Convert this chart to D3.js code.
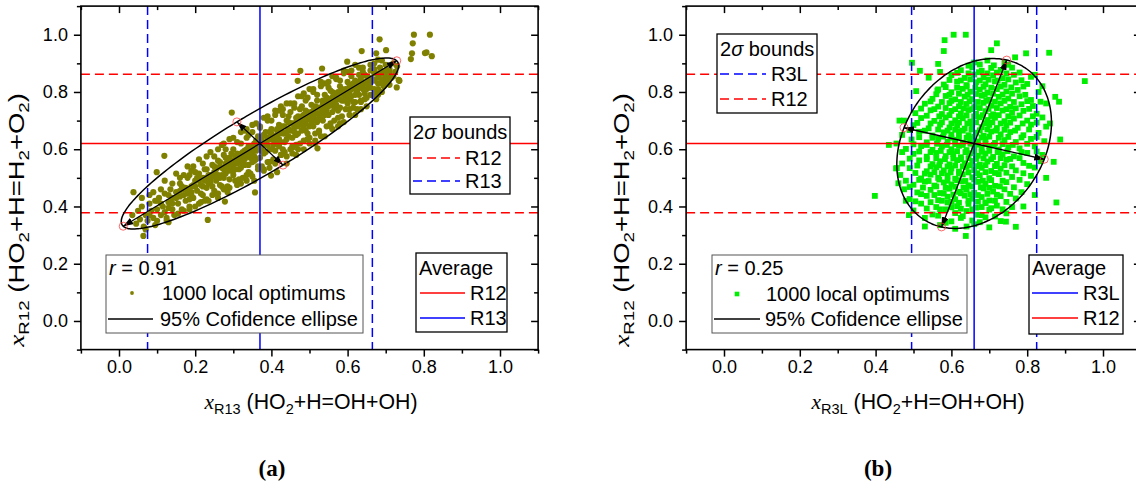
<!DOCTYPE html>
<html><head><meta charset="utf-8">
<script src="https://cdn.jsdelivr.net/npm/d3@7/dist/d3.min.js"></script>
<style>
body{margin:0;background:#fff;}
</style>
</head><body>
<svg id="c" width="1136" height="489" font-family="'Liberation Sans',Arial,sans-serif"></svg>
<script>
// ---------------- DATA ----------------
const majorTicks = [0, 0.2, 0.4, 0.6, 0.8, 1.0];
const minorTicks = [-0.1, 0.1, 0.3, 0.5, 0.7, 0.9, 1.1];
const axisDomain = [-0.1, 1.1];

// panel (a): x = R13, y = R12
const meanA = [0.37, 0.62];
const boundsXA = [0.075, 0.665];
const boundsYA = [0.378, 0.862];
const ellipseMajorA = [0.359, 0.289];
const ellipseMinorA = [0.0605, -0.0755];
const rA = "0.91";

// panel (b): x = R3L, y = R12
const meanB = [0.66, 0.62];
const boundsXB = [0.495, 0.825];
const boundsYB = [0.378, 0.862];
const ellipseMajorB = [0.086, 0.2915];
const ellipseMinorB = [0.185, -0.055];
const rB = "0.25";

const pointsA = [
[0.035,0.37],[0.045,0.34],[0.05,0.385],[0.055,0.355],[0.06,0.40],[0.065,0.33],[0.07,0.37],[0.075,0.35],[0.08,0.41],[0.085,0.385],
[0.09,0.36],[0.095,0.42],[0.10,0.39],[0.10,0.35],[0.105,0.43],[0.11,0.37],[0.115,0.40],[0.12,0.445],[0.12,0.38],[0.125,0.36],
[0.13,0.415],[0.135,0.46],[0.14,0.39],[0.14,0.43],[0.145,0.37],[0.15,0.45],[0.155,0.41],[0.16,0.48],[0.16,0.435],[0.165,0.39],
[0.17,0.46],[0.175,0.42],[0.18,0.50],[0.18,0.445],[0.185,0.40],[0.19,0.47],[0.195,0.43],[0.20,0.52],[0.20,0.49],[0.205,0.455],
[0.21,0.41],[0.215,0.475],[0.22,0.50],[0.22,0.44],[0.225,0.53],[0.23,0.465],[0.235,0.42],[0.24,0.51],[0.24,0.485],[0.245,0.545],
[0.25,0.455],[0.25,0.52],[0.255,0.49],[0.26,0.56],[0.26,0.43],[0.265,0.50],[0.27,0.535],[0.27,0.47],[0.275,0.58],[0.28,0.515],
[0.28,0.55],[0.285,0.45],[0.29,0.495],[0.29,0.57],[0.295,0.535],[0.30,0.60],[0.30,0.51],[0.305,0.555],[0.31,0.475],[0.31,0.585],
[0.315,0.53],[0.32,0.62],[0.32,0.56],[0.325,0.50],[0.33,0.595],[0.33,0.545],[0.335,0.64],[0.34,0.575],[0.34,0.52],[0.345,0.61],
[0.35,0.555],[0.35,0.66],[0.355,0.49],[0.36,0.595],[0.36,0.63],[0.365,0.54],[0.37,0.57],[0.37,0.68],[0.375,0.615],[0.38,0.65],
[0.38,0.525],[0.385,0.59],[0.39,0.555],[0.39,0.70],[0.395,0.635],[0.40,0.67],[0.40,0.60],[0.405,0.56],[0.41,0.645],[0.41,0.72],
[0.415,0.52],[0.42,0.61],[0.42,0.685],[0.425,0.58],[0.43,0.655],[0.43,0.74],[0.435,0.625],[0.44,0.70],[0.44,0.55],[0.445,0.67],
[0.45,0.60],[0.45,0.73],[0.455,0.64],[0.46,0.76],[0.46,0.685],[0.465,0.58],[0.47,0.715],[0.47,0.655],[0.475,0.62],[0.48,0.75],
[0.48,0.69],[0.485,0.60],[0.49,0.735],[0.49,0.665],[0.495,0.78],[0.50,0.705],[0.50,0.64],[0.505,0.755],[0.51,0.68],[0.51,0.80],
[0.515,0.62],[0.52,0.725],[0.52,0.77],[0.525,0.66],[0.53,0.745],[0.53,0.82],[0.535,0.70],[0.54,0.79],[0.54,0.645],[0.545,0.76],
[0.55,0.72],[0.55,0.835],[0.555,0.68],[0.56,0.80],[0.56,0.755],[0.565,0.70],[0.57,0.78],[0.57,0.85],[0.575,0.735],[0.58,0.82],
[0.58,0.69],[0.585,0.77],[0.59,0.80],[0.59,0.865],[0.595,0.74],[0.60,0.835],[0.60,0.78],[0.605,0.72],[0.61,0.81],[0.61,0.875],
[0.615,0.765],[0.62,0.84],[0.62,0.79],[0.625,0.74],[0.63,0.86],[0.63,0.815],[0.635,0.77],[0.64,0.885],[0.64,0.835],[0.645,0.795],
[0.65,0.855],[0.65,0.75],[0.655,0.82],[0.66,0.875],[0.66,0.79],[0.665,0.845],[0.67,0.81],[0.67,0.90],[0.675,0.775],[0.68,0.865],
[0.68,0.83],[0.685,0.885],[0.69,0.845],[0.69,0.80],[0.695,0.87],[0.70,0.895],[0.70,0.835],[0.705,0.86],[0.71,0.88],[0.715,0.85],
[0.72,0.90],[0.725,0.87],[0.73,0.89],[0.735,0.84],
[0.13,0.44],[0.17,0.44],[0.19,0.45],[0.21,0.49],[0.23,0.50],[0.235,0.48],[0.245,0.505],[0.255,0.53],[0.265,0.54],[0.275,0.53],
[0.285,0.555],[0.295,0.56],[0.305,0.575],[0.315,0.575],[0.325,0.59],[0.335,0.60],[0.345,0.59],[0.355,0.62],[0.365,0.61],[0.375,0.64],
[0.385,0.625],[0.395,0.66],[0.405,0.645],[0.415,0.67],[0.425,0.665],[0.435,0.68],[0.445,0.695],[0.455,0.69],[0.465,0.71],[0.475,0.705],
[0.485,0.72],[0.495,0.73],[0.505,0.73],[0.515,0.75],[0.525,0.745],[0.535,0.77],[0.545,0.78],[0.555,0.775],[0.565,0.79],[0.575,0.80],
[0.585,0.795],[0.595,0.81],[0.605,0.82],[0.615,0.83],[0.625,0.83],[0.635,0.85],[0.645,0.86],[0.655,0.85],
[0.08,0.37],[0.11,0.41],[0.14,0.41],[0.16,0.455],[0.175,0.465],[0.185,0.425],[0.195,0.475],[0.205,0.50],[0.215,0.445],[0.225,0.49],
[0.235,0.51],[0.245,0.47],[0.255,0.505],[0.265,0.475],[0.275,0.50],[0.28,0.57],[0.29,0.525],[0.30,0.545],[0.305,0.53],[0.31,0.55],
[0.32,0.535],[0.325,0.57],[0.33,0.565],[0.34,0.545],[0.345,0.57],[0.35,0.585],[0.355,0.575],[0.36,0.565],[0.365,0.645],[0.37,0.60],
[0.38,0.585],[0.385,0.66],[0.39,0.615],[0.40,0.635],[0.405,0.615],[0.41,0.595],[0.415,0.64],[0.42,0.655],[0.425,0.625],[0.43,0.60],
[0.435,0.655],[0.44,0.635],[0.445,0.715],[0.45,0.665],[0.455,0.61],[0.46,0.66],[0.465,0.695],[0.47,0.68],[0.475,0.74],[0.48,0.665],
[0.485,0.70],[0.49,0.69],[0.495,0.655],[0.50,0.68],[0.505,0.71],[0.51,0.735],[0.515,0.70],[0.52,0.695],[0.525,0.71],[0.53,0.725],
[0.535,0.76],[0.54,0.72],[0.545,0.735],[0.55,0.75],[0.555,0.805],[0.56,0.73],[0.565,0.765],[0.57,0.755],[0.575,0.775],[0.58,0.745],
[0.585,0.81],[0.59,0.77],[0.595,0.785],[0.60,0.76],[0.605,0.80],[0.61,0.785],[0.62,0.765],[0.625,0.805],[0.63,0.79],[0.64,0.81],
[0.65,0.83],[0.66,0.815],[0.67,0.84],[0.68,0.81],[0.69,0.865],[0.70,0.86],[0.71,0.845],
[0.06,0.43],[0.07,0.32],[0.09,0.45],[0.095,0.335],[0.12,0.49],[0.125,0.35],[0.15,0.515],[0.155,0.375],[0.16,0.50],
[0.18,0.54],[0.185,0.39],[0.19,0.525],[0.21,0.565],[0.215,0.415],[0.22,0.55],[0.225,0.42],[0.24,0.59],[0.245,0.44],[0.25,0.575],[0.255,0.445],
[0.27,0.615],[0.275,0.46],[0.28,0.60],[0.285,0.47],[0.30,0.64],[0.305,0.49],[0.31,0.625],[0.315,0.495],[0.33,0.665],[0.335,0.51],
[0.34,0.65],[0.345,0.515],[0.36,0.69],[0.365,0.53],[0.37,0.675],[0.375,0.54],[0.39,0.715],[0.395,0.555],[0.40,0.70],[0.405,0.565],
[0.42,0.735],[0.425,0.58],[0.43,0.72],[0.435,0.59],[0.45,0.76],[0.455,0.605],[0.46,0.745],[0.465,0.615],[0.48,0.785],[0.485,0.63],
[0.49,0.77],[0.495,0.635],[0.51,0.81],[0.515,0.655],[0.52,0.79],[0.525,0.665],[0.54,0.83],[0.545,0.68],[0.55,0.815],[0.555,0.69],
[0.57,0.845],[0.575,0.71],[0.58,0.84],[0.585,0.715],[0.60,0.87],[0.605,0.74],[0.61,0.855],[0.615,0.745],[0.63,0.885],[0.635,0.765],
[0.64,0.87],[0.645,0.775],[0.66,0.895],[0.665,0.79],[0.67,0.88],[0.675,0.80],[0.69,0.91],[0.695,0.82],[0.70,0.875],[0.71,0.825],
[0.10,0.42],[0.13,0.395],[0.15,0.43],[0.165,0.47],[0.18,0.46],[0.19,0.44],[0.20,0.47],[0.21,0.515],[0.22,0.47],[0.23,0.53],
[0.24,0.495],[0.25,0.54],[0.26,0.51],[0.265,0.555],[0.27,0.51],[0.28,0.535],[0.29,0.545],[0.295,0.585],[0.30,0.525],[0.31,0.565],
[0.32,0.585],[0.325,0.55],[0.335,0.58],[0.34,0.61],[0.35,0.60],[0.355,0.56],[0.36,0.615],[0.37,0.63],[0.375,0.595],[0.38,0.615],
[0.39,0.64],[0.395,0.60],[0.40,0.655],[0.41,0.625],[0.415,0.665],[0.42,0.635],[0.43,0.68],[0.44,0.66],[0.445,0.645],[0.45,0.69],
[0.46,0.675],[0.465,0.65],[0.47,0.70],[0.48,0.715],[0.485,0.675],[0.49,0.71],[0.50,0.725],[0.505,0.69],[0.51,0.715],[0.52,0.745],
[0.53,0.705],[0.535,0.735],[0.54,0.745],[0.55,0.77],[0.56,0.78],[0.565,0.745],[0.57,0.795],[0.58,0.775],[0.59,0.79],[0.60,0.80],
[0.605,0.775],[0.61,0.825],[0.62,0.81],[0.63,0.835],[0.64,0.825],[0.65,0.81],[0.655,0.84],[0.66,0.835],[0.67,0.865],[0.68,0.85],
[0.69,0.83],[0.70,0.85],[0.71,0.87],[0.72,0.855],
[0.08,0.44],[0.11,0.46],[0.13,0.345],[0.14,0.48],[0.17,0.51],[0.17,0.385],[0.195,0.54],[0.20,0.40],[0.23,0.575],[0.23,0.425],
[0.26,0.60],[0.26,0.445],[0.29,0.635],[0.29,0.465],[0.32,0.66],[0.32,0.48],[0.35,0.685],[0.35,0.505],[0.38,0.71],[0.38,0.53],
[0.41,0.735],[0.41,0.55],[0.44,0.76],[0.44,0.575],[0.47,0.785],[0.47,0.60],[0.50,0.81],[0.50,0.62],[0.53,0.835],[0.53,0.645],
[0.56,0.855],[0.56,0.67],[0.59,0.875],[0.59,0.695],[0.62,0.895],[0.62,0.72],[0.65,0.78],[0.68,0.79],[0.185,0.51],[0.275,0.62],
[0.335,0.67],[0.425,0.75],[0.485,0.795],[0.335,0.49],[0.395,0.535],[0.455,0.585],[0.515,0.63],[0.575,0.68],[0.635,0.74],
[0.774,1.0],[0.816,1.0],[0.771,0.97],[0.769,0.935],[0.766,0.915],[0.807,0.938],[0.821,0.925],[0.684,0.984],[0.701,0.946],[0.637,0.943],
[0.675,0.935],[0.599,0.906],[0.734,0.842],[0.729,0.816],[0.296,0.728],[0.119,0.577],[0.099,0.52],[0.038,0.45],[0.064,0.297],[0.233,0.353],
[0.357,0.449],[0.278,0.417],[0.476,0.874],[0.533,0.882],[0.521,0.603],[0.399,0.508],[0.803,0.936],[0.68,0.913],[0.469,0.839],[0.736,0.839]
];

const pointsB = [
[0.57,0.335],[0.61,0.322],[0.66,0.338],[0.70,0.327],
[0.53,0.36],[0.60,0.348],[0.63,0.366],[0.655,0.351],[0.69,0.362],[0.73,0.349],
[0.50,0.386],[0.55,0.372],[0.585,0.39],[0.61,0.377],[0.64,0.384],[0.67,0.371],[0.70,0.389],[0.745,0.376],
[0.52,0.41],[0.56,0.398],[0.59,0.414],[0.615,0.401],[0.645,0.409],[0.665,0.396],[0.69,0.412],[0.72,0.403],[0.76,0.398],
[0.49,0.426],[0.535,0.437],[0.565,0.422],[0.59,0.434],[0.61,0.425],[0.635,0.438],[0.655,0.427],[0.68,0.433],[0.70,0.421],[0.73,0.436],[0.77,0.428],
[0.475,0.46],[0.51,0.449],[0.545,0.458],[0.57,0.447],[0.595,0.462],[0.62,0.451],[0.64,0.459],[0.66,0.448],[0.685,0.463],[0.71,0.452],[0.74,0.46],[0.785,0.45],
[0.50,0.476],[0.53,0.487],[0.555,0.473],[0.58,0.484],[0.60,0.477],[0.625,0.488],[0.645,0.474],[0.67,0.486],[0.69,0.479],[0.715,0.472],[0.745,0.485],[0.80,0.478],
[0.465,0.51],[0.52,0.498],[0.545,0.511],[0.565,0.5],[0.59,0.508],[0.61,0.497],[0.63,0.512],[0.655,0.502],[0.675,0.509],[0.70,0.499],[0.725,0.513],[0.76,0.503],[0.81,0.507],
[0.49,0.534],[0.535,0.523],[0.56,0.537],[0.58,0.526],[0.60,0.533],[0.62,0.522],[0.64,0.538],[0.66,0.527],[0.68,0.535],[0.705,0.524],[0.73,0.532],[0.77,0.526],[0.82,0.536],
[0.47,0.55],[0.515,0.561],[0.55,0.548],[0.57,0.558],[0.595,0.547],[0.615,0.562],[0.635,0.551],[0.655,0.559],[0.675,0.546],[0.695,0.557],[0.72,0.549],[0.745,0.563],[0.79,0.552],[0.835,0.558],
[0.50,0.584],[0.535,0.574],[0.56,0.587],[0.585,0.576],[0.605,0.583],[0.625,0.572],[0.65,0.586],[0.67,0.577],[0.69,0.585],[0.71,0.573],[0.735,0.582],[0.765,0.575],[0.80,0.587],
[0.48,0.601],[0.52,0.611],[0.55,0.598],[0.575,0.609],[0.60,0.6],[0.62,0.612],[0.64,0.597],[0.66,0.608],[0.68,0.602],[0.70,0.611],[0.725,0.599],[0.75,0.607],[0.78,0.603],[0.82,0.61],
[0.495,0.634],[0.535,0.624],[0.565,0.636],[0.59,0.626],[0.61,0.633],[0.63,0.623],[0.65,0.637],[0.67,0.627],[0.69,0.635],[0.715,0.622],[0.74,0.632],[0.77,0.625],[0.81,0.636],[0.845,0.628],
[0.47,0.65],[0.515,0.661],[0.55,0.648],[0.58,0.659],[0.60,0.651],[0.62,0.663],[0.645,0.649],[0.665,0.658],[0.685,0.647],[0.705,0.662],[0.73,0.652],[0.755,0.66],[0.79,0.649],[0.83,0.657],
[0.50,0.684],[0.54,0.673],[0.57,0.686],[0.595,0.676],[0.615,0.683],[0.635,0.672],[0.655,0.687],[0.68,0.677],[0.70,0.685],[0.72,0.674],[0.745,0.682],[0.775,0.675],[0.81,0.686],[0.85,0.679],
[0.52,0.709],[0.555,0.699],[0.585,0.711],[0.61,0.701],[0.63,0.708],[0.65,0.697],[0.675,0.712],[0.695,0.702],[0.715,0.71],[0.74,0.698],[0.765,0.707],[0.80,0.7],[0.84,0.711],
[0.505,0.726],[0.545,0.736],[0.575,0.723],[0.60,0.734],[0.625,0.725],[0.645,0.737],[0.665,0.724],[0.69,0.733],[0.71,0.722],[0.735,0.735],[0.76,0.727],[0.79,0.734],[0.825,0.724],
[0.53,0.759],[0.565,0.749],[0.595,0.761],[0.62,0.75],[0.64,0.758],[0.66,0.747],[0.685,0.762],[0.705,0.752],[0.73,0.76],[0.755,0.748],[0.785,0.757],[0.815,0.751],[0.85,0.76],
[0.55,0.776],[0.585,0.786],[0.61,0.774],[0.635,0.784],[0.655,0.775],[0.68,0.787],[0.70,0.773],[0.725,0.783],[0.75,0.777],[0.78,0.785],[0.81,0.772],
[0.565,0.809],[0.60,0.799],[0.63,0.811],[0.65,0.801],[0.675,0.808],[0.695,0.798],[0.72,0.81],[0.745,0.802],[0.775,0.807],[0.83,0.8],
[0.58,0.826],[0.615,0.836],[0.64,0.824],[0.665,0.834],[0.69,0.827],[0.715,0.837],[0.74,0.825],[0.77,0.833],[0.80,0.828],
[0.60,0.859],[0.635,0.849],[0.66,0.861],[0.685,0.851],[0.71,0.858],[0.735,0.848],[0.765,0.86],[0.81,0.853],
[0.625,0.876],[0.655,0.886],[0.68,0.874],[0.705,0.884],[0.73,0.877],[0.76,0.885],
[0.66,0.903],[0.695,0.91],[0.74,0.901],
[0.585,0.343],[0.675,0.345],[0.64,0.33],
[0.565,0.368],[0.625,0.36],[0.68,0.37],[0.715,0.365],
[0.535,0.393],[0.57,0.39],[0.60,0.397],[0.625,0.392],[0.655,0.39],[0.68,0.398],[0.705,0.394],[0.735,0.39],
[0.505,0.418],[0.545,0.415],[0.575,0.42],[0.60,0.416],[0.62,0.413],[0.645,0.42],[0.67,0.417],[0.69,0.414],[0.715,0.42],[0.745,0.416],
[0.52,0.443],[0.555,0.44],[0.58,0.445],[0.605,0.441],[0.625,0.446],[0.65,0.442],[0.67,0.44],[0.695,0.444],[0.72,0.441],[0.755,0.444],
[0.49,0.468],[0.525,0.466],[0.56,0.47],[0.585,0.465],[0.61,0.469],[0.632,0.466],[0.655,0.47],[0.678,0.467],[0.70,0.465],[0.728,0.47],[0.765,0.467],
[0.48,0.49],[0.515,0.493],[0.54,0.489],[0.568,0.494],[0.59,0.49],[0.615,0.492],[0.637,0.489],[0.66,0.494],[0.683,0.49],[0.705,0.492],[0.735,0.49],[0.78,0.493],
[0.505,0.517],[0.53,0.515],[0.555,0.52],[0.575,0.516],[0.598,0.519],[0.62,0.515],[0.645,0.519],[0.668,0.516],[0.69,0.52],[0.715,0.517],[0.745,0.518],[0.79,0.516],
[0.51,0.543],[0.545,0.54],[0.568,0.544],[0.59,0.54],[0.61,0.543],[0.63,0.54],[0.65,0.544],[0.67,0.541],[0.69,0.544],[0.715,0.541],[0.74,0.544],[0.76,0.54],[0.805,0.542],
[0.49,0.567],[0.535,0.565],[0.56,0.569],[0.583,0.565],[0.605,0.568],[0.625,0.565],[0.645,0.569],[0.665,0.566],[0.685,0.568],[0.705,0.565],[0.73,0.569],[0.755,0.566],[0.78,0.569],
[0.515,0.592],[0.545,0.59],[0.572,0.594],[0.595,0.59],[0.615,0.593],[0.637,0.59],[0.66,0.594],[0.68,0.591],[0.70,0.594],[0.722,0.59],[0.748,0.593],[0.785,0.59],[0.825,0.592],
[0.50,0.617],[0.535,0.615],[0.562,0.619],[0.588,0.615],[0.61,0.618],[0.63,0.615],[0.65,0.619],[0.67,0.616],[0.69,0.619],[0.712,0.615],[0.735,0.618],[0.762,0.615],[0.80,0.619],
[0.515,0.642],[0.55,0.64],[0.578,0.644],[0.60,0.64],[0.62,0.643],[0.64,0.64],[0.66,0.644],[0.68,0.641],[0.70,0.644],[0.725,0.64],[0.75,0.643],[0.785,0.641],[0.825,0.643],
[0.49,0.667],[0.53,0.665],[0.565,0.669],[0.59,0.665],[0.61,0.668],[0.63,0.665],[0.653,0.669],[0.675,0.666],[0.695,0.669],[0.718,0.665],[0.74,0.668],[0.768,0.665],[0.805,0.669],
[0.51,0.692],[0.545,0.69],[0.575,0.694],[0.60,0.69],[0.62,0.693],[0.642,0.69],[0.665,0.694],[0.688,0.691],[0.708,0.694],[0.73,0.69],[0.755,0.693],[0.788,0.69],[0.825,0.693],
[0.535,0.717],[0.568,0.715],[0.595,0.719],[0.62,0.715],[0.64,0.718],[0.66,0.715],[0.683,0.719],[0.705,0.716],[0.725,0.719],[0.75,0.715],[0.78,0.718],[0.815,0.715],
[0.52,0.742],[0.555,0.74],[0.585,0.744],[0.61,0.74],[0.632,0.743],[0.655,0.74],[0.675,0.744],[0.698,0.741],[0.72,0.744],[0.745,0.74],[0.77,0.743],[0.805,0.741],
[0.545,0.767],[0.575,0.765],[0.60,0.769],[0.625,0.765],[0.648,0.768],[0.67,0.765],[0.692,0.769],[0.715,0.766],[0.74,0.769],[0.765,0.765],[0.80,0.768],[0.835,0.766],
[0.56,0.792],[0.595,0.79],[0.62,0.794],[0.643,0.79],[0.665,0.793],[0.688,0.79],[0.71,0.794],[0.735,0.791],[0.76,0.794],[0.795,0.79],
[0.585,0.817],[0.615,0.815],[0.64,0.819],[0.663,0.815],[0.685,0.818],[0.705,0.815],[0.73,0.819],[0.758,0.816],[0.79,0.819],
[0.595,0.842],[0.625,0.84],[0.65,0.844],[0.675,0.84],[0.698,0.843],[0.722,0.84],[0.75,0.844],[0.785,0.841],
[0.615,0.867],[0.645,0.865],[0.672,0.869],[0.695,0.865],[0.72,0.868],[0.745,0.865],[0.78,0.868],
[0.645,0.892],[0.675,0.896],[0.712,0.893],[0.75,0.895],
[0.47,0.59],[0.475,0.70],[0.455,0.62],[0.48,0.42],[0.53,0.33],[0.84,0.58],[0.86,0.69],[0.85,0.50],[0.82,0.44],[0.79,0.40],
[0.54,0.85],[0.57,0.87],[0.82,0.86],[0.84,0.82],
[0.606,1.0],[0.638,1.0],[0.582,0.981],[0.58,0.943],[0.72,0.97],[0.705,0.946],[0.768,0.921],[0.797,0.935],[0.858,0.937],[0.952,0.838],
[0.874,0.783],[0.884,0.766],[0.887,0.634],[0.87,0.556],[0.877,0.414],[0.398,0.437],[0.435,0.615],[0.454,0.533],[0.496,0.902],[0.517,0.874],
[0.565,0.898],[0.638,0.297],[0.744,0.347],[0.77,0.329],[0.488,0.37],[0.507,0.803],[0.563,0.805],[0.463,0.70],[0.46,0.481],[0.456,0.534]
];

const xTitleA = ["R13", "HO", "2", "+H=OH+OH)"];
const xTitleB = ["R3L", "HO", "2", "+H=OH+OH)"];
const yTitleParts = ["R12"];
const boundsLabelsA = ["R12", "R13"];
const averageLabelsA = ["R12", "R13"];
const boundsLabelsB = ["R3L", "R12"];
const averageLabelsB = ["R3L", "R12"];
const scatterLabel = "1000 local optimums";
const ellipseLabel = "95% Cofidence ellipse";
const panelLabels = ["(a)", "(b)"];

// ---------------- DRAW ----------------
const RED = "#ff0000", BLUE = "#0000ff";
const SANS = "'Liberation Sans',Arial,sans-serif";
const SERIF = "'Liberation Serif','Times New Roman',serif";
const svg = d3.select("#c");
svg.append("rect").attr("width", 1136).attr("height", 489).attr("fill", "#fff");
const defs = svg.append("defs");
defs.append("marker").attr("id", "ah").attr("viewBox", "0 0 10 7")
  .attr("refX", 10).attr("refY", 3.5).attr("markerWidth", 10).attr("markerHeight", 7)
  .attr("markerUnits", "userSpaceOnUse").attr("orient", "auto")
  .append("path").attr("d", "M0,0L10,3.5L0,7Z").attr("fill", "#000");

const yTop = 6.1, yBot = 349.6;
const FS_LEG = 20;

function panel(cfg) {
  const x = d3.scaleLinear().domain(axisDomain).range(cfg.xr);
  const y = d3.scaleLinear().domain(axisDomain).range([yBot, yTop]);
  const g = svg.append("g");
  const cid = "clip" + cfg.id;
  defs.append("clipPath").attr("id", cid).append("rect")
    .attr("x", cfg.xr[0]).attr("y", yTop).attr("width", cfg.xr[1] - cfg.xr[0]).attr("height", yBot - yTop);
  const pg = g.append("g").attr("clip-path", `url(#${cid})`);

  if (cfg.marker === "circle") {
    pg.selectAll("circle.pt").data(cfg.points).join("circle").attr("class", "pt")
      .attr("cx", d => x(d[0])).attr("cy", d => y(d[1])).attr("r", 3.1).attr("fill", cfg.color);
  } else {
    pg.selectAll("rect.pt").data(cfg.points).join("rect").attr("class", "pt")
      .attr("x", d => x(d[0]) - 2.9).attr("y", d => y(d[1]) - 2.9)
      .attr("width", 5.8).attr("height", 5.8).attr("fill", cfg.color);
  }

  const vline = (v, dash) => pg.append("line").attr("x1", x(v)).attr("x2", x(v)).attr("y1", yTop).attr("y2", yBot)
    .attr("stroke", BLUE).attr("stroke-width", 1.5).attr("stroke-dasharray", dash ? "9,5" : null);
  const hline = (v, dash) => pg.append("line").attr("y1", y(v)).attr("y2", y(v)).attr("x1", cfg.xr[0]).attr("x2", cfg.xr[1])
    .attr("stroke", RED).attr("stroke-width", 1.5).attr("stroke-dasharray", dash ? "9,5" : null);
  cfg.boundsY.forEach(v => hline(v, true));
  cfg.boundsX.forEach(v => vline(v, true));
  hline(cfg.mean[1], false);
  vline(cfg.mean[0], false);

  const c = cfg.mean, A = cfg.major, B = cfg.minor;
  const ts = d3.range(0, 360, 2).map(a => a * Math.PI / 180);
  const ell = ts.map(t => [x(c[0] + Math.cos(t) * A[0] + Math.sin(t) * B[0]), y(c[1] + Math.cos(t) * A[1] + Math.sin(t) * B[1])]);
  pg.append("path").attr("d", d3.line().curve(d3.curveCardinalClosed)(ell))
    .attr("fill", "none").attr("stroke", "#000").attr("stroke-width", 1.5);
  const ends = [[c[0] + A[0], c[1] + A[1]], [c[0] - A[0], c[1] - A[1]], [c[0] + B[0], c[1] + B[1]], [c[0] - B[0], c[1] - B[1]]];
  ends.forEach(e => {
    pg.append("line").attr("x1", x(c[0])).attr("y1", y(c[1])).attr("x2", x(e[0])).attr("y2", y(e[1]))
      .attr("stroke", "#000").attr("stroke-width", 1.3).attr("marker-end", "url(#ah)");
  });
  ends.forEach(e => {
    pg.append("circle").attr("cx", x(e[0])).attr("cy", y(e[1])).attr("r", 4)
      .attr("fill", "none").attr("stroke", "#ff4040").attr("stroke-width", 0.8);
  });

  const styleAxis = sel => {
    sel.select(".domain").remove();
    sel.selectAll(".tick line").attr("stroke", "#000").attr("stroke-width", 1.5);
    sel.selectAll(".tick text").attr("font-size", 18).attr("font-family", SANS).attr("fill", "#000");
  };
  g.append("g").attr("transform", `translate(0,${yBot})`)
    .call(d3.axisBottom(x).tickValues(majorTicks).tickFormat(d3.format(".1f")).tickSize(7).tickPadding(4)).call(styleAxis);
  g.append("g").attr("transform", `translate(0,${yBot})`)
    .call(d3.axisBottom(x).tickValues(minorTicks).tickFormat("").tickSize(4)).call(styleAxis);
  g.append("g").attr("transform", `translate(0,${yTop})`)
    .call(d3.axisBottom(x).tickValues(majorTicks).tickFormat("").tickSize(7)).call(styleAxis);
  g.append("g").attr("transform", `translate(0,${yTop})`)
    .call(d3.axisBottom(x).tickValues(minorTicks).tickFormat("").tickSize(4)).call(styleAxis);
  g.append("g").attr("transform", `translate(${cfg.xr[0]},0)`)
    .call(d3.axisLeft(y).tickValues(majorTicks).tickFormat(d3.format(".1f")).tickSize(7).tickPadding(6)).call(styleAxis);
  g.append("g").attr("transform", `translate(${cfg.xr[0]},0)`)
    .call(d3.axisLeft(y).tickValues(minorTicks).tickFormat("").tickSize(4)).call(styleAxis);
  g.append("g").attr("transform", `translate(${cfg.xr[1]},0)`)
    .call(d3.axisLeft(y).tickValues(majorTicks).tickFormat("").tickSize(7)).call(styleAxis);
  g.append("g").attr("transform", `translate(${cfg.xr[1]},0)`)
    .call(d3.axisLeft(y).tickValues(minorTicks).tickFormat("").tickSize(4)).call(styleAxis);
  g.append("rect").attr("x", cfg.xr[0]).attr("y", yTop).attr("width", cfg.xr[1] - cfg.xr[0]).attr("height", yBot - yTop)
    .attr("fill", "none").attr("stroke", "#000").attr("stroke-width", 1.6);

  const lg = g.append("g");
  const box = (b, stroke, sw) => lg.append("rect").attr("x", b[0]).attr("y", b[1]).attr("width", b[2] - b[0]).attr("height", b[3] - b[1])
    .attr("fill", "#fff").attr("stroke", stroke).attr("stroke-width", sw);
  const txt = (tx, yc) => lg.append("text").attr("x", tx).attr("y", yc + 0.35 * FS_LEG).attr("font-size", FS_LEG).attr("font-family", SANS);
  const seg = (x1, x2, yc, col, dash) => lg.append("line").attr("x1", x1).attr("x2", x2).attr("y1", yc).attr("y2", yc)
    .attr("stroke", col).attr("stroke-width", 1.5).attr("stroke-dasharray", dash ? "9,5" : null);

  const L = cfg.sig;
  box(L.box, "#000", 1.3);
  const t1 = txt(L.box[0] + 3, L.rows[0]);
  t1.append("tspan").text("2");
  t1.append("tspan").attr("font-style", "italic").text("σ");
  t1.append("tspan").text(" bounds");
  cfg.sigLabels.forEach((s, i) => {
    seg(L.line[0], L.line[1], L.rows[i + 1], cfg.sigColors[i], true);
    txt(L.text, L.rows[i + 1]).text(s);
  });

  const V = cfg.avg;
  box(V.box, "#000", 1.3);
  txt(V.box[0] + 3, V.rows[0]).text("Average");
  cfg.avgLabels.forEach((s, i) => {
    seg(V.line[0], V.line[1], V.rows[i + 1], cfg.avgColors[i], false);
    txt(V.text, V.rows[i + 1]).text(s);
  });

  const R = cfg.rbox;
  box(R.box, "#555", 1);
  const tr = txt(R.box[0] + 3, R.rows[0]);
  tr.append("tspan").attr("font-style", "italic").text("r");
  tr.append("tspan").text(" = " + cfg.r);
  if (cfg.marker === "circle") {
    lg.append("circle").attr("cx", R.mark).attr("cy", R.rows[1]).attr("r", 1.9).attr("fill", cfg.color);
  } else {
    lg.append("rect").attr("x", R.mark - 2.3).attr("y", R.rows[1] - 2.3).attr("width", 4.6).attr("height", 4.6).attr("fill", cfg.color);
  }
  txt(R.text1, R.rows[1]).text(scatterLabel);
  seg(R.line[0], R.line[1], R.rows[2], "#000", false);
  txt(R.text2, R.rows[2]).text(ellipseLabel);

  const FT = 22, FS = 15;
  const xt = svg.append("g").attr("transform", `translate(${cfg.xTitleX},409)`);
  const xtt = xt.append("text").attr("text-anchor", "middle").attr("font-size", FT).attr("font-family", SANS);
  xtt.append("tspan").attr("font-family", SERIF).attr("font-style", "italic").text("x");
  xtt.append("tspan").attr("font-size", FS).attr("dy", 5).text(cfg.xTitle[0]);
  xtt.append("tspan").attr("dy", -5).text(" (" + cfg.xTitle[1]);
  xtt.append("tspan").attr("font-size", FS).attr("dy", 5).text(cfg.xTitle[2]);
  xtt.append("tspan").attr("dy", -5).text(cfg.xTitle[3]);
  const wx = xtt.node().getBBox().width;
  xtt.attr("transform", `scale(${214 / wx},1)`);

  const yt = svg.append("g").attr("transform", `translate(${cfg.yTitleX},220) rotate(-90)`);
  const ytt = yt.append("text").attr("text-anchor", "middle").attr("font-size", FT).attr("font-family", SANS);
  ytt.append("tspan").attr("font-family", SERIF).attr("font-style", "italic").text("x");
  ytt.append("tspan").attr("font-size", FS).attr("dy", 5).text(yTitleParts[0]);
  ytt.append("tspan").attr("dy", -5).text(" (HO");
  ytt.append("tspan").attr("font-size", FS).attr("dy", 5).text("2");
  ytt.append("tspan").attr("dy", -5).text("+H=H");
  ytt.append("tspan").attr("font-size", FS).attr("dy", 5).text("2");
  ytt.append("tspan").attr("dy", -5).text("+O");
  ytt.append("tspan").attr("font-size", FS).attr("dy", 5).text("2");
  ytt.append("tspan").attr("dy", -5).text(")");
  const wy = ytt.node().getBBox().width;
  ytt.attr("transform", `scale(${255 / wy},1)`);

  svg.append("text").attr("x", cfg.labelX).attr("y", 476).attr("text-anchor", "middle")
    .attr("font-family", SERIF).attr("font-weight", "bold").attr("font-size", 23)
    .text(cfg.label);
}

panel({
  id: "a", xr: [80.9, 538.1], points: pointsA, marker: "circle", color: "#808000",
  mean: meanA, boundsX: boundsXA, boundsY: boundsYA, major: ellipseMajorA, minor: ellipseMinorA, r: rA,
  sig: { box: [410, 117, 510, 194], rows: [132, 158, 181], line: [413, 460], text: 465 },
  sigLabels: boundsLabelsA, sigColors: [RED, BLUE],
  avg: { box: [416, 253, 507, 332], rows: [268, 293, 318], line: [420, 465], text: 470 },
  avgLabels: averageLabelsA, avgColors: [RED, BLUE],
  rbox: { box: [106, 255, 363, 333], rows: [268, 293, 319], mark: 132, text1: 162, line: [108, 153], text2: 160 },
  xTitle: xTitleA, xTitleX: 311, yTitleX: 24, labelX: 272, label: panelLabels[0]
});
panel({
  id: "b", xr: [686.1, 1140.9], points: pointsB, marker: "square", color: "#00ee00",
  mean: meanB, boundsX: boundsXB, boundsY: boundsYB, major: ellipseMajorB, minor: ellipseMinorB, r: rB,
  sig: { box: [717, 34, 817, 113], rows: [49, 74, 99], line: [720, 766], text: 771 },
  sigLabels: boundsLabelsB, sigColors: [BLUE, RED],
  avg: { box: [1029, 255, 1123, 334], rows: [268, 293, 318], line: [1032, 1078], text: 1083 },
  avgLabels: averageLabelsB, avgColors: [BLUE, RED],
  rbox: { box: [712, 255, 967, 333], rows: [268, 294, 319], mark: 737, text1: 766, line: [714, 760], text2: 765 },
  xTitle: xTitleB, xTitleX: 918, yTitleX: 629, labelX: 878, label: panelLabels[1]
});
</script>
</body></html>
